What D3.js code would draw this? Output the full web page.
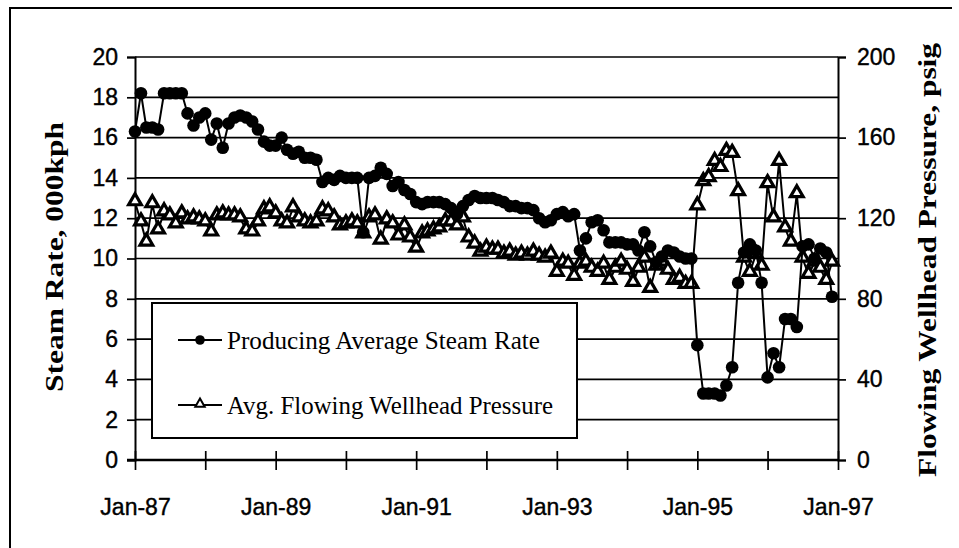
<!DOCTYPE html>
<html>
<head>
<meta charset="utf-8">
<script src="https://cdn.jsdelivr.net/npm/d3@7"></script>
<style>
  html, body { margin: 0; padding: 0; background: #fff; }
  svg { display: block; }
</style>
</head>
<body>
<svg id="chart" width="959" height="548"></svg>
<script>
// monthly values, Jan-87 .. Dec-96
const steamRate = [
  16.3, 18.2, 16.5, 16.5, 16.4, 18.2, 18.2, 18.2, 18.2, 17.2, 16.6, 17.0,
  17.2, 15.9, 16.7, 15.5, 16.7, 17.0, 17.1, 17.0, 16.8, 16.4, 15.8, 15.6,
  15.6, 16.0, 15.4, 15.2, 15.3, 15.0, 15.0, 14.9, 13.8, 14.0, 13.9, 14.1,
  14.0, 14.0, 14.0, 11.3, 14.0, 14.1, 14.5, 14.2, 13.6, 13.8, 13.4, 13.2,
  12.8, 12.7, 12.8, 12.8, 12.8, 12.7, 12.5, 12.2, 12.6, 12.9, 13.1, 13.0,
  13.0, 13.0, 12.9, 12.8, 12.6, 12.6, 12.5, 12.5, 12.4, 12.0, 11.8, 11.9,
  12.2, 12.3, 12.1, 12.2, 10.4, 11.0, 11.8, 11.9, 11.4, 10.8, 10.8, 10.8,
  10.7, 10.7, 10.4, 11.3, 10.6, 9.8, 10.1, 10.4, 10.3, 10.1, 10.0, 10.0,
  5.7, 3.3, 3.3, 3.3, 3.2, 3.7, 4.6, 8.8, 10.3, 10.7, 10.4, 8.8,
  4.1, 5.3, 4.6, 7.0, 7.0, 6.6, 10.6, 10.7, 10.0, 10.5, 10.3, 8.1
];
const wellheadPressure = [
  128, 118, 108, 127, 114, 123, 121, 117, 122, 119, 120, 119,
  118, 113, 121, 122, 121, 121, 120, 114, 113, 118, 124, 125,
  122, 118, 117, 125, 120, 118, 117, 118, 124, 123, 120, 116,
  117, 118, 117, 112, 120, 121, 109, 119, 117, 111, 116, 110,
  105, 112, 113, 114, 115, 118, 118, 116, 120, 110, 107, 103,
  105, 104, 104, 102, 103, 101, 102, 101, 103, 101, 100, 102,
  93, 98, 97, 91, 97, 98, 95, 93, 97, 89, 95, 98,
  94, 88, 95, 100, 85, 96, 98, 94, 89, 90, 87, 87,
  126, 138, 140, 148, 145, 153, 152, 133, 100, 93, 102, 96,
  137, 120, 148, 115, 108, 132, 100, 92, 98, 95, 89, 98
];
const leftTicks = [0, 2, 4, 6, 8, 10, 12, 14, 16, 18, 20];
const rightTicks = [0, 40, 80, 120, 160, 200];
const xLabelYears = [1987, 1989, 1991, 1993, 1995, 1997];
const seriesNames = ["Producing Average Steam Rate", "Avg. Flowing Wellhead Pressure"];

const months = d3.timeMonth.range(new Date(1987, 0, 1), new Date(1997, 0, 1));

const plot = {left: 135, right: 838, top: 57, bottom: 460};
const svg = d3.select("#chart");

const x = d3.scaleTime([new Date(1987, 0, 1), new Date(1997, 0, 1)], [plot.left, plot.right]);
const yL = d3.scaleLinear([0, 20], [plot.bottom, plot.top]);
const yR = d3.scaleLinear([0, 200], [plot.bottom, plot.top]);

// outer frame (only top and left edges show in the scan)
svg.append("path")
  .attr("d", "M10,548 V8 H952")
  .attr("fill", "none").attr("stroke", "#000").attr("stroke-width", 2);

// gridlines
svg.append("g")
  .selectAll("line")
  .data(leftTicks.filter(d => d > 0))
  .join("line")
    .attr("x1", plot.left).attr("x2", plot.right)
    .attr("y1", d => yL(d)).attr("y2", d => yL(d))
    .attr("stroke", "#000").attr("stroke-width", 1.7);

const tickFont = "'Liberation Sans', Arial, sans-serif";

// left axis
const gL = svg.append("g")
  .attr("transform", `translate(${plot.left},0)`)
  .call(d3.axisLeft(yL).tickValues(leftTicks).tickSize(8).tickPadding(9));
// right axis
const gR = svg.append("g")
  .attr("transform", `translate(${plot.right},0)`)
  .call(d3.axisRight(yR).tickValues(rightTicks).tickSize(8).tickPadding(11));
// bottom axis, tick every year, label every other year
const gX = svg.append("g")
  .attr("transform", `translate(0,${plot.bottom})`)
  .call(d3.axisBottom(x)
    .ticks(d3.timeYear.every(1))
    .tickSize(10)
    .tickFormat(d => xLabelYears.includes(d.getFullYear()) ? d3.timeFormat("%b-%y")(d) : ""));

[gL, gR, gX].forEach(g => {
  g.selectAll("text")
    .attr("font-family", tickFont).attr("font-size", 23).attr("fill", "#000")
    .attr("stroke", "#000").attr("stroke-width", 0.4);
  g.selectAll("line").attr("stroke", "#000").attr("stroke-width", 1.7);
  g.select(".domain").attr("stroke", "#000").attr("stroke-width", 2);
});
gX.selectAll(".tick line").attr("y1", -9).attr("y2", 10);
gX.selectAll(".tick text").attr("y", 39).attr("dy", "0.71em");
gX.select(".domain").attr("d", `M${plot.left - 8},0H${plot.right}`).attr("stroke-width", 2.6);

// axis titles
const titleFont = "'Liberation Serif', 'Times New Roman', serif";
svg.append("text")
  .attr("transform", "translate(63,257) rotate(-90)")
  .attr("text-anchor", "middle")
  .attr("font-family", titleFont).attr("font-weight", "bold").attr("font-size", 26)
  .attr("textLength", 270).attr("lengthAdjust", "spacingAndGlyphs")
  .text("Steam Rate, 000kph");
svg.append("text")
  .attr("transform", "translate(936,260) rotate(-90)")
  .attr("text-anchor", "middle")
  .attr("font-family", titleFont).attr("font-weight", "bold").attr("font-size", 26)
  .attr("textLength", 434).attr("lengthAdjust", "spacingAndGlyphs")
  .text("Flowing Wellhead Pressure, psig");

// legend
const legend = svg.append("g");
legend.append("rect")
  .attr("x", 152).attr("y", 303).attr("width", 425).attr("height", 135)
  .attr("fill", "#fff").attr("stroke", "#000").attr("stroke-width", 2);
const legendRows = [
  {name: seriesNames[0], y: 340, len: 313, marker: "circle"},
  {name: seriesNames[1], y: 405, len: 326, marker: "triangle"}
];
legendRows.forEach(r => {
  legend.append("line")
    .attr("x1", 178).attr("x2", 222).attr("y1", r.y).attr("y2", r.y)
    .attr("stroke", "#000").attr("stroke-width", 2);
  if (r.marker === "circle") {
    legend.append("circle").attr("cx", 200).attr("cy", r.y).attr("r", 4.8).attr("fill", "#000");
  } else {
    legend.append("path")
      .attr("d", d3.symbol(d3.symbolTriangle, 38)())
      .attr("transform", `translate(200,${r.y - 1})`)
      .attr("fill", "#fff").attr("stroke", "#000").attr("stroke-width", 2);
  }
  legend.append("text")
    .attr("x", 227).attr("y", r.y).attr("dy", "0.35em")
    .attr("font-family", titleFont).attr("font-size", 26)
    .attr("textLength", r.len).attr("lengthAdjust", "spacingAndGlyphs")
    .text(r.name);
});

// series
const steamData = months.map((d, i) => ({date: d, v: steamRate[i]}));
const pressData = months.map((d, i) => ({date: d, v: wellheadPressure[i]}));

svg.append("path")
  .datum(pressData)
  .attr("fill", "none").attr("stroke", "#000").attr("stroke-width", 2)
  .attr("d", d3.line().x(d => x(d.date)).y(d => yR(d.v)));
svg.append("g")
  .selectAll("path")
  .data(pressData)
  .join("path")
    .attr("d", d3.symbol(d3.symbolTriangle, 70)())
    .attr("transform", d => `translate(${x(d.date)},${yR(d.v) - 1})`)
    .attr("fill", "#fff").attr("stroke", "#000").attr("stroke-width", 3.2);

svg.append("path")
  .datum(steamData)
  .attr("fill", "none").attr("stroke", "#000").attr("stroke-width", 2)
  .attr("d", d3.line().x(d => x(d.date)).y(d => yL(d.v)));
svg.append("g")
  .selectAll("circle")
  .data(steamData)
  .join("circle")
    .attr("cx", d => x(d.date)).attr("cy", d => yL(d.v))
    .attr("r", 6.3).attr("fill", "#000");
</script>
</body>
</html>
